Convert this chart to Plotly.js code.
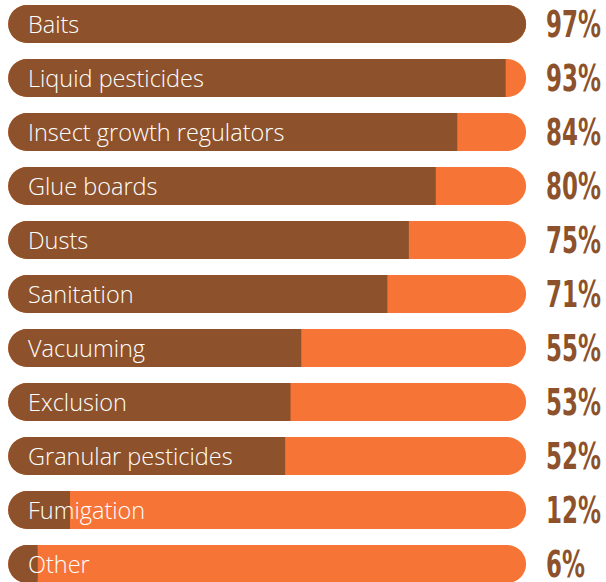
<!DOCTYPE html>
<html>
<head>
<meta charset="utf-8">
<script src="https://cdn.plot.ly/plotly-3.0.1.min.js"></script>
<style>
  html, body { margin: 0; padding: 0; background: #ffffff; }
  #chart { width: 606px; height: 582px; }
</style>
</head>
<body>
<div id="chart"></div>
<script>
// ---- data ----
const categories = ['Baits', 'Liquid pesticides', 'Insect growth regulators', 'Glue boards', 'Dusts',
  'Sanitation', 'Vacuuming', 'Exclusion', 'Granular pesticides', 'Fumigation', 'Other'];
const values = [97, 93, 84, 80, 75, 71, 55, 53, 52, 12, 6];
const pctLabels = values.map(v => v + '%');

// ---- style / layout constants ----
const W = 606, H = 582;
const BROWN = '#8D522B';
const ORANGE = '#F77437';
const X_RANGE = [-1.013, 111.65];
const TRACK_START = 0.5;
const TRACK_END = 96.8;
const R = 19;                                   // corner radius in px
const RU = R * (X_RANGE[1] - X_RANGE[0]) / W;   // corner radius in data units
const BARW = 0.704;

// condensed look for the percentages: DejaVu Sans Condensed Bold, narrowed a bit more
const PCT_FONT = 'DejaVu Sans Condensed';
const PCT_SIZE = 37;
const PCT_TARGET_W = 55;
const pctScale = (function () {
  const c = document.createElement('canvas').getContext('2d');
  c.font = 'bold ' + PCT_SIZE + 'px "' + PCT_FONT + '"';
  const w = c.measureText('97%').width;
  return Math.min(1, PCT_TARGET_W / w);
})();
const st = document.createElement('style');
st.textContent = 'text.annotation-text[style*="DejaVu Sans Condensed"]{transform-box:fill-box;transform-origin:0 50%;transform:scaleX(' + pctScale.toFixed(3) + ');}';
document.head.appendChild(st);

const rep = v => categories.map(() => v);
const common = {
  type: 'bar', orientation: 'h', y: categories, width: BARW,
  hoverinfo: 'skip', showlegend: false
};

const traces = [
  // orange track (rounded both ends)
  Object.assign({}, common, {
    base: rep(TRACK_START), x: rep(TRACK_END - TRACK_START),
    marker: { color: ORANGE, cornerradius: R }
  }),
  // brown left cap (or full capsule when value reaches the track end)
  Object.assign({}, common, {
    base: rep(TRACK_START),
    x: values.map(v => v >= TRACK_END ? TRACK_END - TRACK_START : 2 * RU),
    marker: { color: BROWN, cornerradius: R }
  }),
  // brown square body up to the value
  Object.assign({}, common, {
    base: rep(TRACK_START + RU),
    x: values.map(v => v >= TRACK_END ? null : v - (TRACK_START + RU)),
    marker: { color: BROWN, cornerradius: 0 }
  }),
  // orange square patch where the left cap overshoots a small value
  Object.assign({}, common, {
    base: values,
    x: values.map(v => v < TRACK_START + 2 * RU ? TRACK_START + 2 * RU - v : null),
    marker: { color: ORANGE, cornerradius: 0 }
  })
];

const annotations = [];
categories.forEach((c, i) => {
  annotations.push({
    xref: 'paper', yref: 'y', x: 26 / W, y: c, xanchor: 'left', yanchor: 'middle',
    text: c, showarrow: false,
    font: { family: 'Open Sans, Liberation Sans, sans-serif', size: 23.5, color: '#ffffff', weight: 300 }
  });
  annotations.push({
    xref: 'paper', yref: 'y', x: 544 / W, y: c, xanchor: 'left', yanchor: 'middle',
    text: pctLabels[i], showarrow: false,
    font: { family: PCT_FONT + ', DejaVu Sans, sans-serif', size: PCT_SIZE, color: BROWN, weight: 700 }
  });
});

const layout = {
  width: W, height: H,
  margin: { l: 0, r: 0, t: 0, b: 0, pad: 0 },
  paper_bgcolor: '#ffffff', plot_bgcolor: '#ffffff',
  barmode: 'overlay',
  hovermode: false,
  xaxis: { range: X_RANGE, showgrid: false, zeroline: false, showticklabels: false, showline: false, fixedrange: true },
  yaxis: { type: 'category', range: [10.333, -0.444], showgrid: false, zeroline: false, showticklabels: false, showline: false, fixedrange: true },
  annotations: annotations
};

Plotly.newPlot('chart', traces, layout, { staticPlot: true, displayModeBar: false });
</script>
</body>
</html>
